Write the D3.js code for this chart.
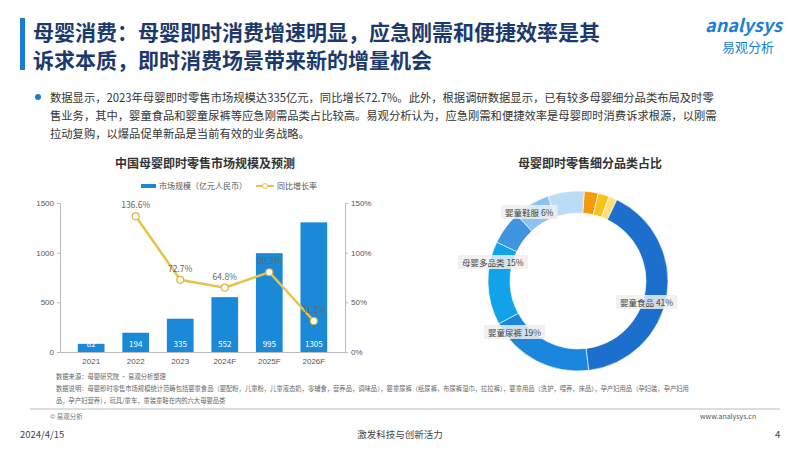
<!DOCTYPE html><html><head><meta charset="utf-8">
<script src="https://cdn.jsdelivr.net/npm/d3@7"></script>
<style>body{margin:0;background:#fff}svg{font-family:"Noto Sans CJK SC","Noto Sans",sans-serif}</style></head><body>
<svg id="c" width="800" height="450"></svg>
<script>
const years=["2021","2022","2023","2024F","2025F","2026F"];
const market=[82,194,335,552,995,1305];
const growth=[null,136.6,72.7,64.8,80.3,31.2];
const growthLabels=["","136.6%","72.7%","64.8%","80.3%","31.2%"];
const leftTicks=[0,500,1000,1500];
const rightTicks=[0,50,100,150];
const cats=["母婴其他1","母婴其他2","母婴其他3","婴童食品","婴童尿裤","母婴多品类","婴童鞋服","母婴其他4","母婴其他5"];
const shares=[2.5,2,1.5,41,19,15,6,6.5,6.5];
const catColors=["#f29b0c","#f7c21a","#fbe07a","#1c6fcc","#1a86dc","#11a3ea","#3f94dd","#8cc2ef","#bcdcf5"];
const showLabel=[false,false,false,true,true,true,true,false,false];

const svg=d3.select("#c");
svg.append("rect").attr("x",20).attr("y",18).attr("width",5).attr("height",52).attr("fill","#1a7fd4");
svg.append("text").attr("x",33).attr("y",40).attr("font-size",21).attr("font-weight","bold").attr("fill","#1b3a6b").text("母婴消费：母婴即时消费增速明显，应急刚需和便捷效率是其");
svg.append("text").attr("x",33).attr("y",68).attr("font-size",21).attr("font-weight","bold").attr("fill","#1b3a6b").text("诉求本质，即时消费场景带来新的增量机会");
svg.append("text").attr("x",705).attr("y",32).attr("font-size",18).attr("font-weight","bold").attr("font-style","italic").attr("fill","#1a7fd4").text("analysys");
svg.append("text").attr("x",722).attr("y",52).attr("font-size",13).attr("fill","#1a7fd4").text("易观分析");
svg.append("circle").attr("cx",38).attr("cy",97).attr("r",3).attr("fill","#1a7fd4");
const para=["数据显示，2023年母婴即时零售市场规模达335亿元，同比增长72.7%。此外，根据调研数据显示，已有较多母婴细分品类布局及时零",
"售业务，其中，婴童食品和婴童尿裤等应急刚需品类占比较高。易观分析认为，应急刚需和便捷效率是母婴即时消费诉求根源，以刚需",
"拉动复购，以爆品促单新品是当前有效的业务战略。"];
para.forEach((t,i)=>svg.append("text").attr("x",50).attr("y",102+i*18).attr("font-size",11.3).attr("fill","#333").text(t));

// bar chart
const x=d3.scaleBand().domain(years).range([60,345]).padding(0.4);
const y=d3.scaleLinear().domain([0,1500]).range([352,203]);
const y2=d3.scaleLinear().domain([0,150]).range([352,203]);
svg.append("text").attr("x",205).attr("y",168).attr("text-anchor","middle").attr("font-size",12).attr("font-weight","bold").attr("fill","#333").text("中国母婴即时零售市场规模及预测");
const lg=svg.append("g").attr("font-size",8).attr("fill","#555");
lg.append("rect").attr("x",141).attr("y",184).attr("width",15).attr("height",4).attr("fill","#1a8ad8");
lg.append("text").attr("x",159).attr("y",189).text("市场规模（亿元人民币）");
lg.append("line").attr("x1",256).attr("x2",274).attr("y1",186).attr("y2",186).attr("stroke","#e8c34a").attr("stroke-width",2);
lg.append("circle").attr("cx",265).attr("cy",186).attr("r",2.5).attr("fill","#fff").attr("stroke","#e8c34a");
lg.append("text").attr("x",277).attr("y",189).text("同比增长率");
const ax=svg.append("g").attr("transform","translate(60,0)").call(d3.axisLeft(y).tickValues(leftTicks).tickSize(3).tickFormat(d=>d));
const ax2=svg.append("g").attr("transform","translate(345,0)").call(d3.axisRight(y2).tickValues(rightTicks).tickSize(3).tickFormat(d=>d+"%"));
const axb=svg.append("g").attr("transform","translate(0,352)").call(d3.axisBottom(x).tickSize(0));
[ax,ax2,axb].forEach(a=>{a.selectAll("path,line").attr("stroke","#bbb");a.selectAll("text").attr("fill","#555").attr("font-size",8);});
axb.selectAll("text").attr("dy","1.1em");
svg.selectAll(".bar").data(market).join("rect").attr("x",(d,i)=>x(years[i])).attr("y",d=>y(d)).attr("width",x.bandwidth()).attr("height",d=>352-y(d)).attr("fill","#1a8ad8");
svg.selectAll(".bl").data(market).join("text").attr("x",(d,i)=>x(years[i])+x.bandwidth()/2).attr("y",347).attr("text-anchor","middle").attr("font-size",8).attr("fill","#fff").text(d=>d);
const pts=growth.map((g,i)=>[g,i]).filter(p=>p[0]!=null);
svg.append("path").datum(pts).attr("fill","none").attr("stroke","#e8c34a").attr("stroke-width",2.5)
 .attr("d",d3.line().x(p=>x(years[p[1]])+x.bandwidth()/2).y(p=>y2(p[0])));
svg.selectAll(".pt").data(pts).join("circle").attr("cx",p=>x(years[p[1]])+x.bandwidth()/2).attr("cy",p=>y2(p[0])).attr("r",3.5).attr("fill","#fff").attr("stroke","#d9b43c").attr("stroke-width",1.2);
svg.selectAll(".gl").data(pts).join("text").attr("x",p=>x(years[p[1]])+x.bandwidth()/2).attr("y",p=>y2(p[0])-8).attr("text-anchor","middle").attr("font-size",8.5).attr("fill","#666").text(p=>growthLabels[p[1]]);

// donut
const cx=578,cy=281;
svg.append("text").attr("x",590).attr("y",168).attr("text-anchor","middle").attr("font-size",12).attr("font-weight","bold").attr("fill","#333").text("母婴即时零售细分品类占比");
const pie=d3.pie().sort(null).startAngle(0.07).endAngle(0.07+2*Math.PI)(shares);
const arc=d3.arc().innerRadius(68).outerRadius(90);
const dg=svg.append("g").attr("transform",`translate(${cx},${cy})`);
dg.selectAll("path").data(pie).join("path").attr("d",arc).attr("fill",(d,i)=>catColors[i]).attr("stroke","#fff").attr("stroke-width",0.6);
const labelPos=[null,null,null,[620,306],[488,336],[462,266],[505,216],null,null];
pie.forEach((d,i)=>{if(!showLabel[i])return;const p=labelPos[i];
 const g=svg.append("g");
 const r=g.append("rect");
 const t=g.append("text").attr("x",p[0]).attr("y",p[1]).attr("font-size",8.5).attr("fill","#444").text(cats[i]+" "+shares[i]+"%");
 const b=t.node().getBBox();
 r.attr("x",b.x-4).attr("y",b.y-1).attr("width",b.width+8).attr("height",b.height+2).attr("fill","#eee").attr("opacity",0.85);
});

// footer
const fn=["数据来源：母婴研究院 · 易观分析整理","数据说明：母婴即时零售市场规模统计范畴包括婴童食品（婴配粉，儿童粉，儿童液态奶，零辅食，营养品，调味品），婴童尿裤（纸尿裤，布尿裤湿巾，拉拉裤），婴童用品（洗护，喂养，床品），孕产妇用品（孕妇装，孕产妇用","品，孕产妇营养），玩具/童车，童装童鞋在内的六大母婴品类"];
fn.forEach((t,i)=>svg.append("text").attr("x",56).attr("y",379+i*12).attr("font-size",6.3).attr("fill","#666").text(t));
svg.append("line").attr("x1",30).attr("x2",780).attr("y1",409).attr("y2",409).attr("stroke","#bbb");
svg.append("text").attr("x",50).attr("y",419).attr("font-size",6.5).attr("fill","#777").text("© 易观分析");
svg.append("text").attr("x",20).attr("y",438).attr("font-size",9.5).attr("fill","#444").text("2024/4/15");
svg.append("text").attr("x",400).attr("y",438).attr("text-anchor","middle").attr("font-size",9.5).attr("fill","#444").text("激发科技与创新活力");
svg.append("text").attr("x",700).attr("y",419).attr("font-size",7).attr("fill","#555").text("www.analysys.cn");
svg.append("text").attr("x",775).attr("y",438).attr("font-size",9.5).attr("fill","#444").text("4");
</script></body></html>
